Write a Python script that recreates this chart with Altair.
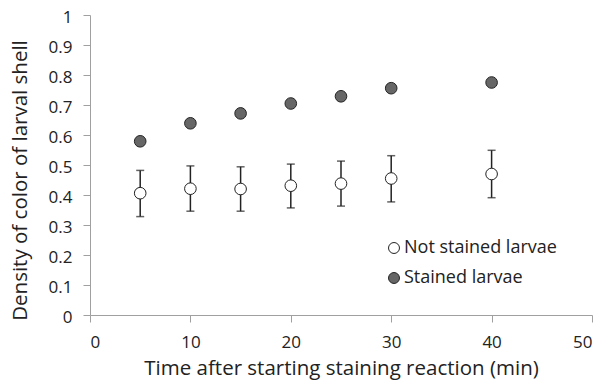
import altair as alt
import pandas as pd

times = [5, 10, 15, 20, 25, 30, 40]
not_stained = [0.406, 0.421, 0.420, 0.431, 0.438, 0.455, 0.470]
not_stained_lo = [0.328, 0.346, 0.346, 0.357, 0.363, 0.377, 0.391]
not_stained_hi = [0.482, 0.497, 0.494, 0.503, 0.513, 0.531, 0.549]
stained = [0.579, 0.639, 0.672, 0.705, 0.729, 0.756, 0.775]
series_names = ["Not stained larvae", "Stained larvae"]
x_ticks = [0, 10, 20, 30, 40, 50]
y_ticks = [0, 0.1, 0.2, 0.3, 0.4, 0.5, 0.6, 0.7, 0.8, 0.9, 1]

rows = []
for t, v in zip(times, not_stained):
    rows.append({"t": t, "v": v, "series": series_names[0]})
for t, v in zip(times, stained):
    rows.append({"t": t, "v": v, "series": series_names[1]})
pts = pd.DataFrame(rows)
err = pd.DataFrame({"t": times, "lo": not_stained_lo, "hi": not_stained_hi})

FONT = "Open Sans"
TXT = "#222222"
AX = "#a0a0a0"

xaxis = alt.Axis(values=x_ticks, title="Time after starting staining reaction (min)",
                 grid=False, domainColor=AX, tickColor=AX, tickSize=7, labelOverlap=False,
                 labelFontSize=17, labelColor=TXT, labelPadding=12,
                 titleFontSize=20.5, titleFontWeight="normal", titleColor=TXT, titlePadding=8,
                 labelFont=FONT, titleFont=FONT)
yaxis = alt.Axis(values=y_ticks, title="Density of color of larval shell",
                 grid=False, domainColor=AX, tickColor=AX, tickSize=7, labelOverlap=False,
                 labelFontSize=17, labelColor=TXT, labelPadding=11, labelOffset=2,
                 titleFontSize=20.5, titleFontWeight="normal", titleColor=TXT,
                 titleX=-64, titleY=165, titleBaseline="alphabetic",
                 labelFont=FONT, titleFont=FONT, format="~g")
xs = alt.Scale(domain=[0, 50])
ys = alt.Scale(domain=[0, 1])

base_err = alt.Chart(err)
rules = base_err.mark_rule(color=TXT, strokeWidth=1.5).encode(
    x=alt.X("t:Q", scale=xs, axis=xaxis),
    y=alt.Y("lo:Q", scale=ys, axis=yaxis), y2="hi:Q")
cap_hi = base_err.mark_tick(color=TXT, orient="horizontal", size=8, thickness=1.5).encode(
    x=alt.X("t:Q", scale=xs, axis=xaxis), y=alt.Y("hi:Q", scale=ys, axis=yaxis))
cap_lo = base_err.mark_tick(color=TXT, orient="horizontal", size=8, thickness=1.5).encode(
    x=alt.X("t:Q", scale=xs, axis=xaxis), y=alt.Y("lo:Q", scale=ys, axis=yaxis))

points = alt.Chart(pts).mark_point(filled=True, shape="circle", size=135, stroke=TXT,
                                   strokeWidth=1, opacity=1).encode(
    x=alt.X("t:Q", scale=xs, axis=xaxis),
    y=alt.Y("v:Q", scale=ys, axis=yaxis),
    fill=alt.Fill("series:N", scale=alt.Scale(domain=series_names, range=["white", "#666666"]),
                  legend=alt.Legend(orient="none", legendX=295, legendY=224, title=None,
                                    symbolType="circle", symbolSize=120, symbolStrokeColor=TXT,
                                    symbolStrokeWidth=1, labelFontSize=18, labelFont=FONT,
                                    labelColor=TXT, rowPadding=12, symbolOpacity=1, labelOffset=1)),
)

chart = alt.layer(rules, cap_hi, cap_lo, points).properties(
    width=502, height=300,
    autosize=alt.AutoSizeParams(type="none"),
    padding={"left": 82, "top": 7, "right": 11, "bottom": 66},
).configure_view(stroke=None)

chart.save("out.html", embed_options={"renderer": "svg", "actions": False})
